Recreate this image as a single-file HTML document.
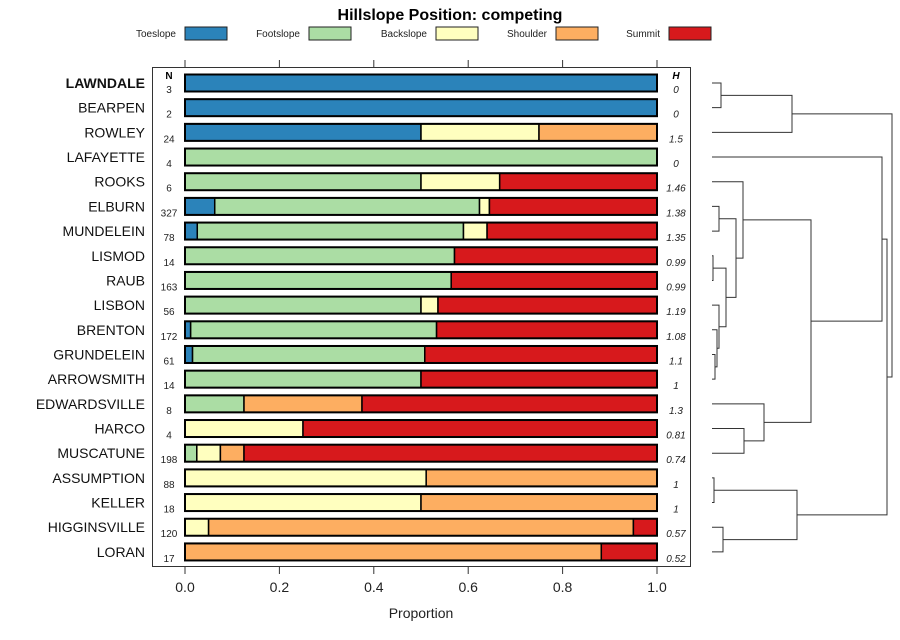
<!DOCTYPE html>
<html><head><meta charset="utf-8"><style>body{margin:0;background:#fff}svg{display:block}</style></head>
<body>
<svg id="s" width="900" height="640" xmlns="http://www.w3.org/2000/svg" font-family="Liberation Sans, sans-serif">
<text x="450" y="20" font-size="16" font-weight="bold" text-anchor="middle">Hillslope Position: competing</text>
</svg>
<script>
var s=document.getElementById('s'),h='';
var C=['#2B83BA','#ABDDA4','#FFFFBF','#FDAE61','#D7191C'];
var L=[['Toeslope',185,176],['Footslope',309,300],['Backslope',436,427],['Shoulder',556,547],['Summit',669,660]];
L.forEach(function(l,i){h+='<text x="'+l[2]+'" y="37" font-size="10" text-anchor="end" fill="#222">'+l[0]+'</text><rect x="'+l[1]+'" y="27" width="42" height="13" fill="'+C[i]+'" stroke="#222" stroke-width="1"/>';});
var D=[['LAWNDALE',3,'0',[1,0,0,0,0]],['BEARPEN',2,'0',[1,0,0,0,0]],['ROWLEY',24,'1.5',[.5,0,.25,.25,0]],['LAFAYETTE',4,'0',[0,1,0,0,0]],
['ROOKS',6,'1.46',[0,.5,.1667,0,.3333]],['ELBURN',327,'1.38',[.063,.561,.021,0,.355]],['MUNDELEIN',78,'1.35',[.026,.564,.05,0,.36]],
['LISMOD',14,'0.99',[0,.571,0,0,.429]],['RAUB',163,'0.99',[0,.564,0,0,.436]],['LISBON',56,'1.19',[0,.5,.036,0,.464]],
['BRENTON',172,'1.08',[.012,.521,0,0,.467]],['GRUNDELEIN',61,'1.1',[.016,.492,0,0,.492]],['ARROWSMITH',14,'1',[0,.5,0,0,.5]],
['EDWARDSVILLE',8,'1.3',[0,.125,0,.25,.625]],['HARCO',4,'0.81',[0,0,.25,0,.75]],['MUSCATUNE',198,'0.74',[0,.025,.05,.05,.875]],
['ASSUMPTION',88,'1',[0,0,.511,.489,0]],['KELLER',18,'1',[0,0,.5,.5,0]],['HIGGINSVILLE',120,'0.57',[0,0,.05,.9,.05]],['LORAN',17,'0.52',[0,0,0,.882,.118]]];
var x0=185,W=472,dy=24.68;
function Y(i){return 83+i*dy;}
h+='<rect x="152.5" y="67.5" width="538" height="499" fill="none" stroke="#333"/>';
for(var k=0;k<=5;k++){var tx=x0+W*k/5;h+='<line x1="'+tx+'" y1="60" x2="'+tx+'" y2="67" stroke="#333"/><line x1="'+tx+'" y1="567" x2="'+tx+'" y2="574" stroke="#333"/><text x="'+tx+'" y="592" font-size="14" text-anchor="middle" fill="#222">'+(k/5).toFixed(1)+'</text>';}
h+='<text x="421" y="618" font-size="14" text-anchor="middle" fill="#222">Proportion</text>';
h+='<text x="169" y="79" font-size="10" font-weight="bold" text-anchor="middle">N</text><text x="676" y="79" font-size="10" font-weight="bold" font-style="italic" text-anchor="middle">H</text>';
D.forEach(function(d,i){var y=Y(i);
h+='<text x="145" y="'+(y+5)+'" font-size="14" text-anchor="end" fill="#111"'+(i==0?' font-weight="bold"':'')+'>'+d[0]+'</text>';
h+='<text x="169" y="'+(y+10)+'" font-size="10" text-anchor="middle" fill="#222">'+d[1]+'</text>';
h+='<text x="676" y="'+(y+10)+'" font-size="10" font-style="italic" text-anchor="middle" fill="#222">'+d[2]+'</text>';
var cx=x0;d[3].forEach(function(p,j){if(p>0){var w=p*W;h+='<rect x="'+cx+'" y="'+(y-8.5)+'" width="'+w+'" height="17" fill="'+C[j]+'" stroke="#000" stroke-width="1.5"/>';cx+=w;}});
h+='<rect x="'+x0+'" y="'+(y-8.5)+'" width="'+W+'" height="17" fill="none" stroke="#000" stroke-width="2"/>';});
// dendrogram
var lx=712;
function leaf(i){return {x:lx,y:Y(i)};}
function M(a,b,x){h+='<path d="M'+a.x+' '+a.y+'H'+x+'V'+b.y+'H'+b.x+'" fill="none" stroke="#333" stroke-width="1"/>';return {x:x,y:(a.y+b.y)/2};}
var A=M(M(leaf(0),leaf(1),721),leaf(2),792);
var ga=M(leaf(12),leaf(11),715);ga=M(leaf(10),ga,717);ga=M(leaf(9),ga,719);
var lr=M(leaf(7),leaf(8),713);var g2=M(lr,ga,726);
var em=M(leaf(5),leaf(6),719);var g3=M(em,g2,736);var g4=M(leaf(4),g3,743);
var hm=M(leaf(14),leaf(15),744);var g5=M(leaf(13),hm,764);
var g6=M(g4,g5,811);var g7=M(leaf(3),g6,882);
var ak=M(leaf(16),leaf(17),714);var hl=M(leaf(18),leaf(19),723);var g8=M(ak,hl,797);
var g9=M(g7,g8,887);M(A,g9,892);
s.innerHTML+=h;
</script>
</body></html>
